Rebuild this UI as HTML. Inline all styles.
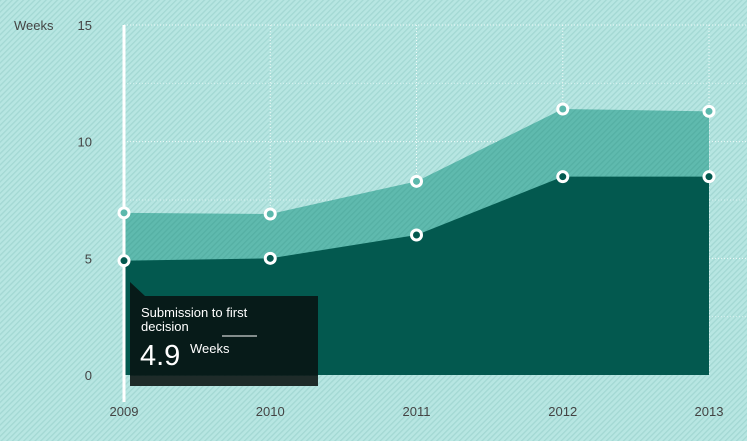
<!DOCTYPE html>
<html><head><meta charset="utf-8"><style>
body{margin:0;width:747px;height:441px;overflow:hidden;font-family:"Liberation Sans",sans-serif;}
</style></head><body>
<svg width="747" height="441" xmlns="http://www.w3.org/2000/svg">
<defs>
<pattern id="hatch" width="4" height="4" patternUnits="userSpaceOnUse" patternTransform="rotate(45)">
<rect width="4" height="4" fill="#b7e6e2"/><rect width="1.3" height="4" fill="#a3d8d3"/>
</pattern>
<pattern id="hatch2" width="4" height="4" patternUnits="userSpaceOnUse" patternTransform="rotate(45)">
<rect width="4" height="4" fill="#5fbaae"/><rect width="1.3" height="4" fill="#55b0a4"/>
</pattern>
</defs>
<rect width="747" height="441" fill="url(#hatch)"/>
<g id="grid"></g>
<g id="areas"></g>
<line x1="124" y1="25" x2="124" y2="402" stroke="#fff" stroke-width="3"/>
<g id="points"></g>
<g id="axes"></g>
<g>
<path d="M130,282 L130,386 L318,386 L318,296 L145,296 Z" fill="#071816" fill-opacity="0.95"/>
<rect x="130" y="376" width="188" height="10" fill="#1e2b29"/>
<text x="141" y="317" fill="#fff" font-size="13">Submission to first</text>
<text x="141" y="331" fill="#fff" font-size="13">decision</text>
<line x1="222" y1="336" x2="257" y2="336" stroke="#fff" stroke-width="1"/>
<text x="140" y="365" fill="#fff" font-size="29">4.9</text>
<text x="190" y="353" fill="#fff" font-size="13">Weeks</text>
</g>
</svg>
<script>
const years=["2009","2010","2011","2012","2013"];
const lower=[4.9,5.0,6.0,8.5,8.5];
const upper=[6.95,6.9,8.3,11.4,11.3];
const yTicks=[0,5,10,15];
const NS="http://www.w3.org/2000/svg";
const x=i=>124+i*146.25;
const y=v=>375-v*23.333;
function mk(tag,attrs,parent){const e=document.createElementNS(NS,tag);for(const k in attrs)e.setAttribute(k,attrs[k]);document.getElementById(parent).appendChild(e);return e;}
yTicks.forEach(t=>{
 if(t>0){const l=mk('line',{x1:124,x2:747,y1:y(t),y2:y(t),stroke:'#fff','stroke-dasharray':'1,2','stroke-opacity':0.8},'grid');
 
 }
 const tx=mk('text',{x:92,y:y(t)+5,'font-size':13,fill:'#444','text-anchor':'end'},'axes');tx.textContent=t;
 
 
});
[2.5,7.5,12.5].forEach(t=>{const l=mk('line',{x1:124,x2:747,y1:y(t),y2:y(t),stroke:'#fff','stroke-dasharray':'1,2','stroke-opacity':0.5},'grid');
 
 });
years.forEach((yr,i)=>{
 const l=mk('line',{x1:x(i),x2:x(i),y1:25,y2:375,stroke:'#fff','stroke-dasharray':'1,2','stroke-opacity':0.8},'grid');
 
 
 const tx=mk('text',{x:x(i),y:416,'font-size':13,fill:'#444','text-anchor':'middle'},'axes');tx.textContent=yr;
 
 
});
const yt=mk('text',{x:14,y:30,'font-size':13,fill:'#444'},'axes');yt.textContent='Weeks';


function area(vals,fill,name){
 let d='M'+x(0)+','+y(0);vals.forEach((v,i)=>d+=' L'+x(i)+','+y(v));d+=' L'+x(vals.length-1)+','+y(0)+' Z';
 const p=mk('path',{d:d,fill:fill},'areas');
 
 
}
area(upper,'url(#hatch2)','area-upper');
area(lower,'#03594f','area-lower');
function pts(vals,fill,name){vals.forEach((v,i)=>{
 const c=mk('circle',{cx:x(i),cy:y(v),r:5,fill:fill,stroke:'#fff','stroke-width':3},'points');
 
 
});}
pts(upper,'#5cb8ac','point-upper');
pts(lower,'#03594f','point-lower');
</script>
</body></html>
